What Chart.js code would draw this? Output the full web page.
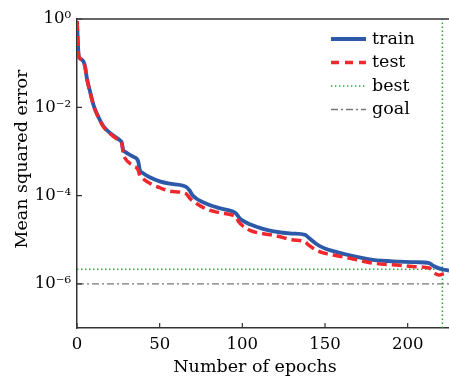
<!DOCTYPE html>
<html>
<head>
<meta charset="utf-8">
<script src="https://cdn.jsdelivr.net/npm/chart.js@4/dist/chart.umd.min.js"></script>
<style>
html,body{margin:0;padding:0;background:#fff;overflow:hidden;}
canvas{display:block;}
</style>
</head>
<body>
<canvas id="c" width="449" height="378"></canvas>
<script>
// ---- data ----
const epochs = [0,1,2,4,5,6,8,10,12,16,22,26,27,28,29,34,37,38,40,44,50,56,66,68,70,78,86,94,96,98,100,105,112,119,130,138,140,145,150,155,165,179,195,205,213,216,219,221,225];
const trainMSE = [0.9,0.15,0.126,0.107,0.079,0.045,0.022,0.0112,0.0072,0.0037,0.0023,0.00178,0.00162,0.00107,0.00098,0.00076,0.0006,0.00038,0.00032,0.00026,0.00021,0.000186,0.000158,0.000132,0.0001,6.6e-5,5.2e-5,4.4e-5,4.0e-5,3.2e-5,2.75e-5,2.2e-5,1.78e-5,1.55e-5,1.38e-5,1.29e-5,1.12e-5,7.9e-6,6.3e-6,5.5e-6,4.4e-6,3.5e-6,3.2e-6,3.1e-6,2.95e-6,2.5e-6,2.24e-6,2.14e-6,2.0e-6];
const testMSE = [0.9,0.15,0.126,0.105,0.077,0.044,0.021,0.011,0.007,0.0036,0.0022,0.0017,0.00155,0.0009,0.00071,0.00047,0.00038,0.00028,0.00024,0.00019,0.000151,0.000126,0.00011,8.9e-5,7.6e-5,5.0e-5,4.1e-5,3.6e-5,3.3e-5,2.5e-5,2.1e-5,1.6e-5,1.38e-5,1.26e-5,1.0e-5,8.9e-6,7.6e-6,5.75e-6,4.9e-6,4.5e-6,3.8e-6,2.95e-6,2.63e-6,2.45e-6,2.29e-6,1.78e-6,1.58e-6,1.66e-6,1.78e-6];
const bestEpoch = 221;
const bestPerf = 2.14e-6;
const goalPerf = 1e-6;
const xMin = 0, xMax = 225;
const yMin = 1e-7, yMax = 1;
const xTickValues = [0,50,100,150,200];
const yTickValues = [1e0,1e-2,1e-4,1e-6];
const yTickLabels = ['10\u2070','10\u207B\u00B2','10\u207B\u2074','10\u207B\u2076'];
const seriesNames = ['train','test','best','goal'];
const xTitle = 'Number of epochs';
const yTitle = 'Mean squared error';

const FONT = "'DejaVu Serif', serif";
Chart.defaults.font.family = FONT;
Chart.defaults.color = '#000';

const pts = (xs, ys) => xs.map((x,i)=>({x:x, y:ys[i]}));

const styles = {
  train:{color:'#2c5aa8', width:3.8, dash:[]},
  test:{color:'#f0282d', width:3.5, dash:[10,5]},
  best:{color:'#2ca03c', width:1.5, dash:[1.4,2.6]},
  goal:{color:'#777777', width:1.4, dash:[7,3,2,3]}
};

const datasets = [
  {label:seriesNames[1], data:pts(epochs,testMSE), order:0,
   borderColor:styles.test.color, borderWidth:styles.test.width, borderDash:styles.test.dash, cubicInterpolationMode:'monotone'},
  {label:seriesNames[0], data:pts(epochs,trainMSE), order:1,
   borderColor:styles.train.color, borderWidth:styles.train.width, borderDash:styles.train.dash, cubicInterpolationMode:'monotone'},
  {label:seriesNames[2], data:[{x:xMin,y:bestPerf},{x:xMax,y:bestPerf},{x:bestEpoch,y:null},{x:bestEpoch,y:yMin},{x:bestEpoch,y:yMax}], order:2,
   borderColor:styles.best.color, borderWidth:styles.best.width, borderDash:styles.best.dash, spanGaps:false},
  {label:seriesNames[3], data:[{x:xMin,y:goalPerf},{x:xMax,y:goalPerf}], order:3,
   borderColor:styles.goal.color, borderWidth:styles.goal.width, borderDash:styles.goal.dash}
];
datasets.forEach(d=>{d.pointRadius=0; d.fill=false; d.tension=0;});

const framePlugin = {
  id:'frame',
  afterDraw(chart){
    const {ctx, chartArea:a, scales} = chart;
    ctx.save();
    ctx.strokeStyle = '#333';
    ctx.lineWidth = 1.5;
    ctx.setLineDash([]);
    ctx.beginPath();
    ctx.moveTo(a.left, a.top); ctx.lineTo(a.right, a.top);
    ctx.stroke();
    ctx.lineWidth = 1.2;
    ctx.beginPath();
    xTickValues.forEach(v=>{const px=scales.x.getPixelForValue(v); ctx.moveTo(px,a.bottom); ctx.lineTo(px,a.bottom-5);});
    yTickValues.forEach(v=>{const py=scales.y.getPixelForValue(v); ctx.moveTo(a.left,py); ctx.lineTo(a.left+5,py);});
    ctx.stroke();
    // axis titles
    ctx.fillStyle = '#000';
    ctx.font = "17.5px " + FONT;
    ctx.textAlign = 'center';
    ctx.textBaseline = 'middle';
    ctx.fillText(xTitle, a.left + 178, 367);
    ctx.save();
    ctx.translate(22, a.top + 140);
    ctx.rotate(-Math.PI/2);
    ctx.fillText(yTitle, 0, 0);
    ctx.restore();
    // legend
    const order = [1,0,2,3];
    const lx0 = a.right - 118, lx1 = a.right - 83, tx = a.right - 77;
    ctx.textBaseline = 'middle';
    ctx.textAlign = 'left';
    order.forEach((di,row)=>{
      const ds = chart.data.datasets[di];
      const y = a.top + 20 + row*23.5;
      ctx.save();
      ctx.strokeStyle = ds.borderColor;
      ctx.lineWidth = ds.borderWidth;
      ctx.setLineDash(ds.label==='test'?[8,6]:ds.borderDash);
      ctx.beginPath(); ctx.moveTo(lx0,y); ctx.lineTo(lx1,y); ctx.stroke();
      ctx.restore();
      ctx.fillStyle = '#000';
      ctx.fillText(ds.label, tx, y);
    });
    ctx.restore();
  }
};

new Chart(document.getElementById('c'), {
  type:'line',
  data:{datasets:datasets},
  options:{
    responsive:false,
    animation:false,
    layout:{padding:{top:19,right:0,left:0,bottom:0}},
    plugins:{legend:{display:false}, tooltip:{enabled:false}},
    scales:{
      x:{
        type:'linear', min:xMin, max:xMax,
        grid:{display:false, drawTicks:false},
        border:{display:true, color:'#333', width:1.5},
        ticks:{stepSize:50, includeBounds:false, padding:7, color:'#000', font:{size:16.5}},
        title:{display:false},
        afterFit:(s)=>{s.height=50;}
      },
      y:{
        type:'logarithmic', min:yMin, max:yMax,
        grid:{display:false, drawTicks:false},
        border:{display:true, color:'#333', width:1.5},
        afterBuildTicks:(s)=>{s.ticks = yTickValues.map(v=>({value:v}));},
        ticks:{autoSkip:false, padding:6, color:'#000', font:{size:16.5},
          callback:(v)=>{const i=yTickValues.findIndex(t=>Math.abs(Math.log10(t)-Math.log10(v))<1e-6); return i>=0?yTickLabels[i]:'';}},
        title:{display:false},
        afterFit:(s)=>{s.width=77;}
      }
    }
  },
  plugins:[framePlugin]
});
</script>
</body>
</html>
